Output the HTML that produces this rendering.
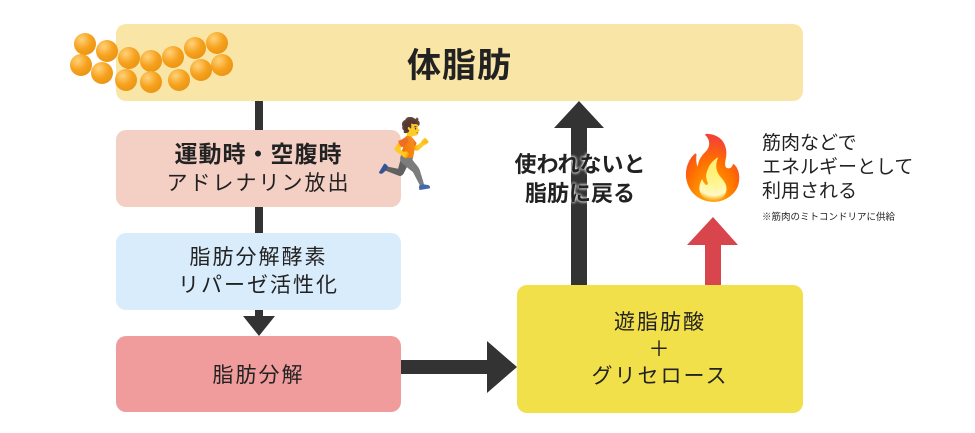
<!DOCTYPE html>
<html><head><meta charset="utf-8"><style>
body{margin:0;width:975px;height:433px;background:#fff;position:relative;overflow:hidden;font-family:"Liberation Sans","Noto Sans CJK JP",sans-serif;color:#222}
.a{position:absolute}
.box{position:absolute;border-radius:10px;display:flex;flex-direction:column;align-items:center;justify-content:center;text-align:center;letter-spacing:2px}
.ball{position:absolute;width:22px;height:22px;border-radius:50%;background:radial-gradient(circle at 35% 30%,#ffd27a 0,#f7a21e 45%,#e08a0c 100%)}
</style></head><body>
<div class="box" style="left:116px;top:24px;width:687px;height:77px;background:#f9e6a6;font-weight:bold;font-size:34px;letter-spacing:1px">体脂肪</div>
<div class="a" style="left:255px;top:101px;width:8px;height:29px;background:#333"></div>
<div class="a" style="left:255px;top:207px;width:8px;height:26px;background:#333"></div>
<div class="a" style="left:255px;top:310px;width:8px;height:8px;background:#333"></div>
<svg class="a" style="left:0;top:0" width="975" height="433">
<polygon points="243,316 275,316 259,336" fill="#333"/>
<rect x="401" y="360" width="88" height="14" fill="#333"/>
<polygon points="487,341 517,367 487,393" fill="#333"/>
<rect x="571" y="127" width="16" height="158" fill="#333"/>
<polygon points="554,128 604,128 579,101" fill="#333"/>
<rect x="705" y="243" width="16" height="42" fill="#d9454d"/>
<polygon points="687,245 738,245 713,217" fill="#d9454d"/>
</svg>
<div class="box" style="left:116px;top:130px;width:285px;height:77px;background:#f3cfc4;font-size:21px;line-height:29px"><b style="font-size:23px;letter-spacing:1px">運動時・空腹時</b><span>アドレナリン放出</span></div>
<div class="box" style="left:116px;top:233px;width:285px;height:77px;background:#d9ecfb;font-size:21px;line-height:28px">脂肪分解酵素<br>リパーゼ活性化</div>
<div class="box" style="left:116px;top:336px;width:285px;height:76px;background:#f19c9c;font-size:21px">脂肪分解</div>
<div class="box" style="left:517px;top:285px;width:286px;height:128px;background:#f2e04a;font-size:21px;line-height:27px">遊脂肪酸<br>＋<br>グリセロース</div>
<div class="a" style="left:490px;top:150px;width:180px;text-align:center;font-weight:bold;font-size:22px;line-height:29px;text-shadow:0 0 3px #fff,0 0 3px #fff">使われないと<br>脂肪に戻る</div>
<div class="a" style="left:366px;top:108px;font-size:68px;line-height:94px;transform:scaleX(-1)">🏃</div>
<div class="a" style="left:674px;top:128px;font-size:62px;line-height:82px">🔥</div>
<div class="a" style="left:762px;top:132px;font-size:19px;line-height:24px;color:#222">筋肉などで<br>エネルギーとして<br>利用される</div>
<div class="a" style="left:762px;top:209px;font-size:9.5px;color:#222">※筋肉のミトコンドリアに供給</div>
<div class="ball" style="left:74px;top:33px"></div>
<div class="ball" style="left:96px;top:40px"></div>
<div class="ball" style="left:70px;top:54px"></div>
<div class="ball" style="left:91px;top:62px"></div>
<div class="ball" style="left:118px;top:47px"></div>
<div class="ball" style="left:140px;top:50px"></div>
<div class="ball" style="left:162px;top:46px"></div>
<div class="ball" style="left:184px;top:37px"></div>
<div class="ball" style="left:206px;top:32px"></div>
<div class="ball" style="left:211px;top:54px"></div>
<div class="ball" style="left:190px;top:59px"></div>
<div class="ball" style="left:168px;top:69px"></div>
<div class="ball" style="left:140px;top:71px"></div>
<div class="ball" style="left:115px;top:69px"></div>
</body></html>
